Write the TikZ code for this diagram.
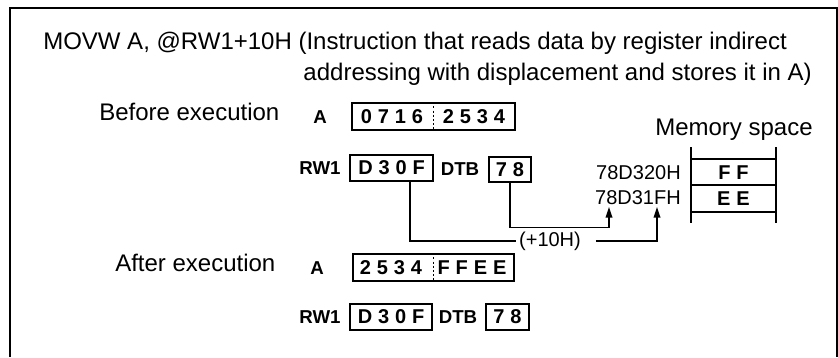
\documentclass[tikz,border=0pt]{standalone}
\usepackage{fontspec}
\setmainfont{Liberation Sans}
\usetikzlibrary{arrows.meta,calc}
\newcommand\gp{\hspace{4.4pt}}
\begin{document}
\begin{tikzpicture}[x=0.75pt,y=-0.75pt,
  main/.style={font=\fontsize{18}{21}\selectfont, inner sep=0pt},
  reg/.style={font=\bfseries\fontsize{14}{16}\selectfont, inner sep=0pt},
  val/.style={font=\bfseries\fontsize{15}{17}\selectfont, inner sep=0pt},
  cell/.style={draw, line width=1.1pt, inner sep=0pt, font=\bfseries\fontsize{15}{17}\selectfont},
  addr/.style={font=\fontsize{15}{17}\selectfont, inner sep=0pt},
  conn/.style={line width=1.1pt},
  tip/.style={-{Triangle[length=8pt,width=5pt]}},
  divider/.style={line width=0.8pt, dash pattern=on 1.5pt off 1.6pt},
  memline/.style={line width=1.4pt}]
\useasboundingbox (0,0) rectangle (838,357);
% frame
\draw[line width=1.5pt] (9.5,357) -- (9.5,8) -- (836.5,8) -- (836.5,357);
% title
\node[main, anchor=base west] (title1) at (43,49) {MOVW A, @RW1+10H (Instruction that reads data by register indirect};
\node[main, anchor=base east] (title2) at (812,80) {addressing with displacement and stores it in A)};
% before
\node[main, anchor=base west] (before) at (99,120) {Before execution};
\node[reg] (la1) at (320,117) {A};
\node[cell, minimum width=122.25pt, minimum height=20.25pt] (a1) at (433.5,116.5) {};
\draw[divider] (a1.north) -- (a1.south);
\node[val] (a1hi) at (392,117) {0\gp7\gp1\gp6};
\node[val] (a1lo) at (474,117) {2\gp5\gp3\gp4};
\node[reg] (lrw1a) at (320,168) {RW1};
\node[cell, minimum width=62.25pt, minimum height=19.5pt] (rw1a) at (391.5,168) {D\gp3\gp0\gp F};
\node[reg] (ldtba) at (460,169) {DTB};
\node[cell, minimum width=31.5pt, minimum height=18.75pt] (dtba) at (510,169.5) {7\gp8};
% memory
\node[main, anchor=base west] (memlab) at (655,135) {Memory space};
\draw[memline] (691,147) -- (691,223);
\draw[memline] (776,147) -- (776,223);
\draw[memline] (691,159) -- (776,159);
\draw[memline] (691,185) -- (776,185);
\draw[memline] (691,212) -- (776,212);
\node[val] (ff) at (733.5,172.5) {F\gp F};
\node[val] (ee) at (733.5,198.5) {E\gp E};
\node[addr, anchor=east] (ad1) at (681,173) {78D320H};
\node[addr, anchor=east] (ad2) at (681,198) {78D31FH};
\coordinate (t1) at (609,207);
\coordinate (t2) at (657,207);
% connectors
\draw[conn,tip] (dtba.south) -- ++(0,45) -| (t1);
\node[addr] (plus) at (550,241) {(+10H)};
\draw[conn] ([xshift=13.9pt]rw1a.south) |- ([xshift=-2pt]plus.west);
\draw[conn,tip] ([xshift=11pt]plus.east) -| (t2);
% after
\node[main, anchor=base west] (after) at (115,271) {After execution};
\node[reg] (la2) at (317,268) {A};
\node[cell, minimum width=120.75pt, minimum height=20.25pt] (a2) at (433.5,267.5) {};
\draw[divider] (a2.north) -- (a2.south);
\node[val] (a2hi) at (391,268) {2\gp5\gp3\gp4};
\node[val] (a2lo) at (472,268) {F\gp F\gp E\gp E};
\node[reg] (lrw1b) at (320,317) {RW1};
\node[cell, minimum width=61.5pt, minimum height=19.5pt] (rw1b) at (391,317) {D\gp3\gp0\gp F};
\node[reg] (ldtbb) at (458,317) {DTB};
\node[cell, minimum width=32.25pt, minimum height=19.5pt] (dtbb) at (507.5,317) {7\gp8};
\end{tikzpicture}
\end{document}
